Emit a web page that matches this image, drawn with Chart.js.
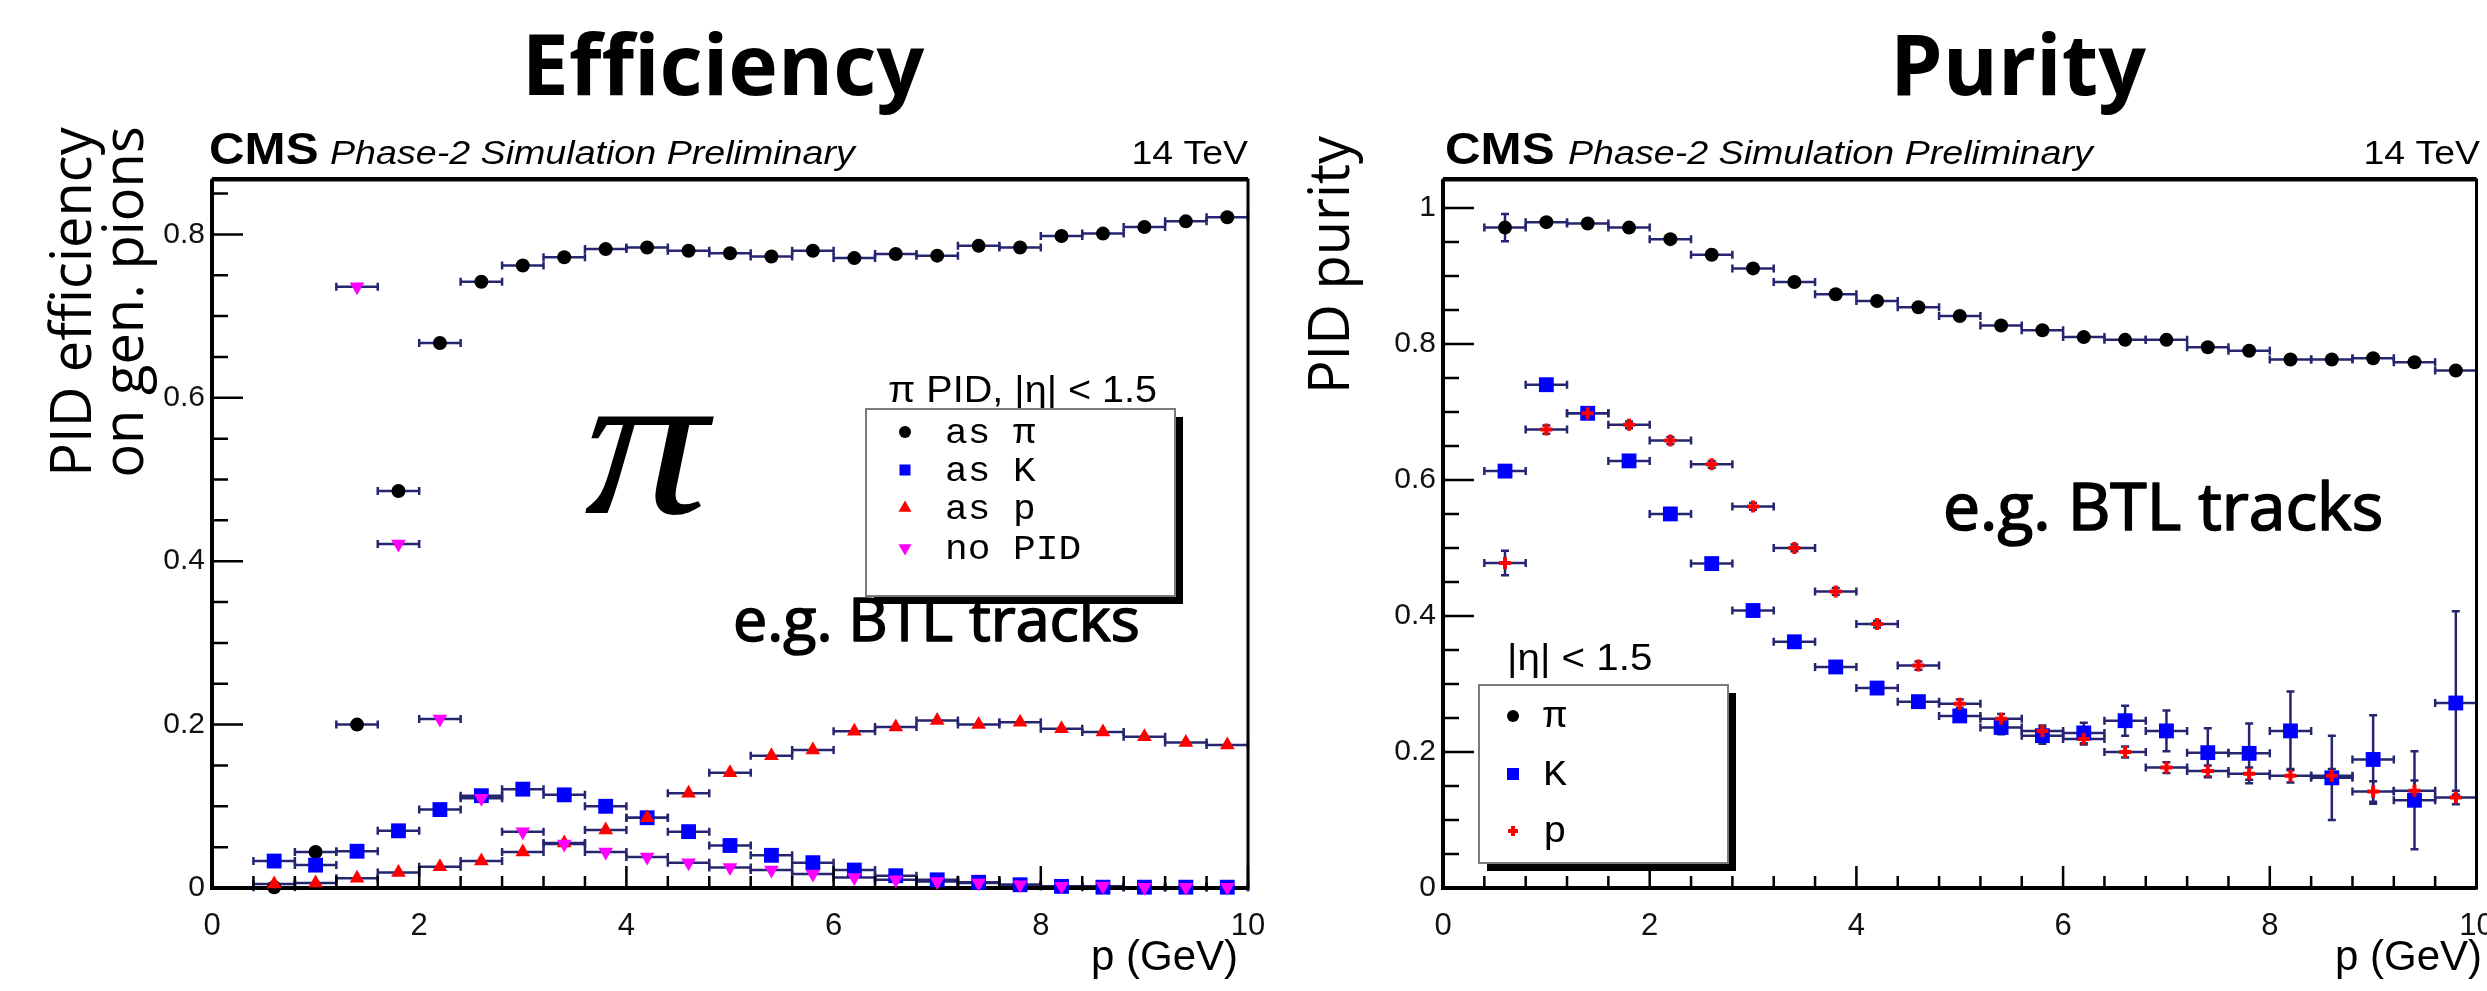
<!DOCTYPE html>
<html>
<head>
<meta charset="utf-8">
<script src="https://cdn.jsdelivr.net/npm/chart.js@4.4.1/dist/chart.umd.min.js"></script>
<style>
html, body { margin: 0; padding: 0; background: #ffffff; }
body { width: 2487px; height: 991px; position: relative; overflow: hidden; }
.panel { position: absolute; top: 0; height: 991px; }
#leftPanel { left: 0; width: 1290px; }
#rightPanel { left: 1290px; width: 1197px; }
canvas { display: block; }
</style>
</head>
<body>
<div class="panel" id="leftPanel"><canvas id="effChart" width="1290" height="991"></canvas></div>
<div class="panel" id="rightPanel"><canvas id="purChart" width="1197" height="991"></canvas></div>
<script>
// ---------------- DATA ----------------
const P_GEV = [0.6, 1.0, 1.4, 1.8, 2.2, 2.6, 3.0, 3.4, 3.8, 4.2, 4.6, 5.0, 5.4, 5.8, 6.2, 6.6, 7.0, 7.4, 7.8, 8.2, 8.6, 9.0, 9.4, 9.8];
const P_HALF_BIN = 0.2;

// Efficiency (pi PID, |eta| < 1.5)
const EFF_AS_PI  = [0.001, 0.044, 0.200, 0.486, 0.667, 0.742, 0.762, 0.772, 0.782, 0.784, 0.780, 0.777, 0.773, 0.780, 0.771, 0.776, 0.774, 0.786, 0.784, 0.798, 0.801, 0.809, 0.816, 0.821];
const EFF_AS_K   = [0.033, 0.028, 0.045, 0.070, 0.096, 0.113, 0.121, 0.114, 0.100, 0.086, 0.069, 0.052, 0.040, 0.031, 0.022, 0.015, 0.010, 0.007, 0.004, 0.002, 0.001, 0.001, 0.001, 0.001];
const EFF_AS_P   = [0.005, 0.006, 0.012, 0.019, 0.026, 0.033, 0.044, 0.055, 0.071, 0.086, 0.116, 0.141, 0.162, 0.169, 0.192, 0.197, 0.205, 0.200, 0.203, 0.195, 0.191, 0.185, 0.178, 0.175];
const EFF_NO_PID = [null, null, 0.736, 0.421, 0.207, 0.110, 0.069, 0.054, 0.044, 0.038, 0.031, 0.025, 0.022, 0.017, 0.013, 0.010, 0.008, 0.006, 0.004, 0.002, 0.002, 0.001, 0.001, 0.001];

// Purity (|eta| < 1.5)
const PUR_PI     = [0.971, 0.979, 0.977, 0.971, 0.954, 0.931, 0.911, 0.891, 0.873, 0.863, 0.854, 0.841, 0.827, 0.820, 0.810, 0.806, 0.806, 0.795, 0.790, 0.777, 0.777, 0.779, 0.773, 0.761];
const PUR_PI_ERR = [0.020, 0.006, 0.005, 0.005, 0.004, 0.004, 0.004, 0.004, 0.004, 0.004, 0.004, 0.004, 0.004, 0.004, 0.004, 0.004, 0.004, 0.004, 0.004, 0.004, 0.004, 0.004, 0.005, 0.005];
const PUR_K      = [0.613, 0.740, 0.698, 0.628, 0.550, 0.477, 0.408, 0.362, 0.325, 0.294, 0.274, 0.253, 0.236, 0.224, 0.228, 0.246, 0.231, 0.199, 0.198, 0.231, 0.162, 0.189, 0.129, 0.272];
const PUR_K_ERR  = [0.008, 0.006, 0.006, 0.005, 0.005, 0.005, 0.005, 0.005, 0.005, 0.006, 0.006, 0.008, 0.010, 0.012, 0.015, 0.022, 0.030, 0.036, 0.044, 0.058, 0.062, 0.065, 0.072, 0.135];
const PUR_P      = [0.478, 0.674, 0.698, 0.681, 0.658, 0.623, 0.561, 0.500, 0.436, 0.388, 0.327, 0.271, 0.249, 0.231, 0.219, 0.200, 0.177, 0.172, 0.168, 0.165, 0.165, 0.142, 0.143, 0.133];
const PUR_P_ERR  = [0.018, 0.006, 0.006, 0.005, 0.005, 0.005, 0.005, 0.005, 0.005, 0.005, 0.006, 0.006, 0.007, 0.008, 0.008, 0.008, 0.008, 0.008, 0.009, 0.010, 0.010, 0.015, 0.015, 0.010];

// Axes
const X_TICKS = [0, 2, 4, 6, 8, 10];
const X_TICK_LABELS = ['0', '2', '4', '6', '8', '10'];
const EFF_Y_TICKS = [0, 0.2, 0.4, 0.6, 0.8];
const EFF_Y_TICK_LABELS = ['0', '0.2', '0.4', '0.6', '0.8'];
const PUR_Y_TICKS = [0, 0.2, 0.4, 0.6, 0.8, 1.0];
const PUR_Y_TICK_LABELS = ['0', '0.2', '0.4', '0.6', '0.8', '1'];
const X_RANGE = [0, 10];
const EFF_Y_RANGE = [0, 0.8666];
const PUR_Y_RANGE = [0, 1.041];

// Legend labels
const EFF_LEGEND_TITLE = 'π PID, |η| < 1.5';
const EFF_LEGEND = ['as π', 'as K', 'as p', 'no PID'];
const PUR_LEGEND_TITLE = '|η| < 1.5';
const PUR_LEGEND = ['π', 'K', 'p'];

// ---------------- STYLE ----------------
const EB_COLOR = '#262670';
const ROOT_FONT = '"Liberation Sans", Arial, Helvetica, sans-serif';
const SLIDE_FONT = '"Open Sans", "Noto Sans", sans-serif';
const MONO_FONT = '"Liberation Mono", "Courier New", monospace';

function points(ys, errs) {
  const out = [];
  P_GEV.forEach((x, i) => {
    if (ys[i] === null || ys[i] === undefined) return;
    out.push({ x: x, y: ys[i], ex: P_HALF_BIN, ey: errs ? errs[i] : 0 });
  });
  return out;
}

function drawText(ctx, text, x, y, font, align, sx, stroke) {
  ctx.save();
  ctx.font = font;
  ctx.fillStyle = '#000';
  ctx.strokeStyle = '#000';
  ctx.textAlign = align || 'left';
  ctx.textBaseline = 'alphabetic';
  ctx.translate(x, y);
  ctx.scale(sx || 1, 1);
  ctx.fillText(text, 0, 0);
  if (stroke) { ctx.lineWidth = stroke; ctx.lineJoin = 'round'; ctx.strokeText(text, 0, 0); }
  ctx.restore();
}

function drawVText(ctx, text, x, y, font) {
  ctx.save();
  ctx.font = font; ctx.fillStyle = '#000'; ctx.textAlign = 'center'; ctx.textBaseline = 'alphabetic';
  ctx.translate(x, y); ctx.rotate(-Math.PI / 2); ctx.fillText(text, 0, 0);
  ctx.restore();
}

function drawMarker(ctx, style, x, y, color, r) {
  ctx.save();
  ctx.fillStyle = color;
  ctx.strokeStyle = color;
  ctx.beginPath();
  if (style === 'circle') {
    ctx.arc(x, y, r, 0, Math.PI * 2);
    ctx.fill();
  } else if (style === 'rect') {
    ctx.fillRect(x - r, y - r, 2 * r, 2 * r);
  } else if (style === 'tri') {
    ctx.moveTo(x, y - r); ctx.lineTo(x + r * 0.87, y + r * 0.5); ctx.lineTo(x - r * 0.87, y + r * 0.5); ctx.closePath(); ctx.fill();
  } else if (style === 'triDown') {
    ctx.moveTo(x, y + r); ctx.lineTo(x + r * 0.87, y - r * 0.5); ctx.lineTo(x - r * 0.87, y - r * 0.5); ctx.closePath(); ctx.fill();
  } else if (style === 'cross') {
    ctx.lineWidth = 4;
    ctx.moveTo(x - r, y); ctx.lineTo(x + r, y); ctx.moveTo(x, y - r); ctx.lineTo(x, y + r); ctx.stroke();
  }
  ctx.restore();
}

function drawLegendBox(ctx, x0, y0, x1, y1) {
  ctx.save();
  ctx.fillStyle = '#000';
  ctx.fillRect(x0 + 8, y0 + 8, x1 - x0, y1 - y0);
  ctx.fillStyle = '#fff';
  ctx.fillRect(x0, y0, x1 - x0, y1 - y0);
  ctx.strokeStyle = '#7a7a7a';
  ctx.lineWidth = 2;
  ctx.strokeRect(x0, y0, x1 - x0, y1 - y0);
  ctx.restore();
}

// Plugin: error bars, frame and inside ticks (drawn under the markers)
function rootAxesPlugin(yMinorStep) {
  return {
    id: 'rootAxes',
    beforeDatasetsDraw(chart) {
      const ctx = chart.ctx;
      const xs = chart.scales.x, ys = chart.scales.y;
      const a = chart.chartArea;
      ctx.save();
      ctx.strokeStyle = EB_COLOR;
      ctx.lineWidth = 2.5;
      chart.data.datasets.forEach(ds => {
        ds.data.forEach(p => {
          const py = ys.getPixelForValue(p.y);
          const xl = xs.getPixelForValue(p.x - p.ex), xr = xs.getPixelForValue(p.x + p.ex);
          ctx.beginPath();
          ctx.moveTo(xl, py); ctx.lineTo(xr, py);
          ctx.moveTo(xl, py - 4); ctx.lineTo(xl, py + 4);
          ctx.moveTo(xr, py - 4); ctx.lineTo(xr, py + 4);
          if (p.ey > 0) {
            const px = xs.getPixelForValue(p.x);
            const yt = ys.getPixelForValue(p.y + p.ey), yb = ys.getPixelForValue(p.y - p.ey);
            ctx.moveTo(px, yt); ctx.lineTo(px, yb);
            ctx.moveTo(px - 4, yt); ctx.lineTo(px + 4, yt);
            ctx.moveTo(px - 4, yb); ctx.lineTo(px + 4, yb);
          }
          ctx.stroke();
        });
      });
      ctx.restore();
      ctx.save();
      ctx.strokeStyle = '#000';
      ctx.lineWidth = 3;
      ctx.strokeRect(a.left, a.top, a.right - a.left, a.bottom - a.top);
      ctx.lineWidth = 4;
      ctx.beginPath();
      ctx.moveTo(a.left, a.top - 1); ctx.lineTo(a.right, a.top - 1);
      ctx.moveTo(a.left, a.top); ctx.lineTo(a.left, a.bottom);
      ctx.lineTo(a.right, a.bottom);
      ctx.stroke();
      ctx.lineWidth = 2.5;
      ctx.beginPath();
      for (let k = 0; k * 0.4 <= X_RANGE[1] + 1e-9; k++) {
        const v = k * 0.4;
        const major = Math.abs(v / 2 - Math.round(v / 2)) < 1e-6;
        const px = xs.getPixelForValue(v);
        ctx.moveTo(px, a.bottom); ctx.lineTo(px, a.bottom - (major ? 22 : 12));
      }
      const yMax = ys.max;
      for (let k = 0; k * yMinorStep <= yMax + 1e-9; k++) {
        const v = k * yMinorStep;
        const major = Math.abs(v / 0.2 - Math.round(v / 0.2)) < 1e-6;
        const py = ys.getPixelForValue(v);
        ctx.moveTo(a.left, py); ctx.lineTo(a.left + (major ? 31 : 16), py);
      }
      ctx.stroke();
      ctx.restore();
    }
  };
}

function scalesFor(yRange, yTicks, yLabels) {
  return {
    x: {
      type: 'linear', min: X_RANGE[0], max: X_RANGE[1],
      afterBuildTicks: s => { s.ticks = X_TICKS.map(v => ({ value: v })); },
      afterFit: s => { s.height = 60; s.paddingLeft = 0; s.paddingRight = 0; },
      grid: { display: false, drawTicks: false }, border: { display: false },
      ticks: { autoSkip: false, maxRotation: 0, minRotation: 0, padding: 20, color: '#111',
               font: { family: ROOT_FONT, size: 31 },
               callback: (v, i) => X_TICK_LABELS[i] }
    },
    y: {
      type: 'linear', min: yRange[0], max: yRange[1],
      afterBuildTicks: s => { s.ticks = yTicks.map(v => ({ value: v })); },
      afterFit: s => { s.width = 80; s.paddingTop = 0; s.paddingBottom = 0; },
      grid: { display: false, drawTicks: false }, border: { display: false },
      ticks: { autoSkip: false, padding: 7, color: '#111',
               font: { family: ROOT_FONT, size: 30 },
               callback: (v, i) => yLabels[i] }
    }
  };
}

// ---------------- LEFT: EFFICIENCY ----------------
const effDeco = {
  id: 'effDeco',
  afterDraw(chart) {
    const ctx = chart.ctx;
    drawText(ctx, 'Efficiency', 723, 95, 'bold 84px ' + SLIDE_FONT, 'center');
    drawText(ctx, 'CMS', 209, 164, 'bold 44px ' + ROOT_FONT, 'left', 1.12);
    drawText(ctx, 'Phase-2 Simulation Preliminary', 330, 164, 'italic 33px ' + ROOT_FONT, 'left', 1.14);
    drawText(ctx, '14 TeV', 1248, 164, '34px ' + ROOT_FONT, 'right', 1.1);
    drawVText(ctx, 'PID efficiency', 91, 302, '56px ' + SLIDE_FONT);
    drawVText(ctx, 'on gen. pions', 143, 302, '56px ' + SLIDE_FONT);
    drawText(ctx, 'p (GeV)', 1238, 970, '42px ' + ROOT_FONT, 'right', 1.0);
    drawText(ctx, 'π', 646, 513, 'italic 210px "Liberation Serif", "DejaVu Serif", serif', 'center', 1.18);
    drawText(ctx, 'e.g. BTL tracks', 733, 641, '61px ' + SLIDE_FONT, 'left', 1, 1.6);
    // legend
    drawText(ctx, EFF_LEGEND_TITLE, 888, 402, '36px ' + ROOT_FONT, 'left', 1.1);
    drawLegendBox(ctx, 866, 409, 1175, 596);
    const ds = chart.data.datasets;
    const rows = [432, 470, 508, 548];
    const styles = [['circle', 6], ['rect', 5.5], ['tri', 7.5], ['triDown', 7.5]];
    for (let i = 0; i < 4; i++) {
      drawMarker(ctx, styles[i][0], 905, rows[i], ds[i].backgroundColor, styles[i][1]);
      drawText(ctx, EFF_LEGEND[i], 945, rows[i] + 11, '35px ' + MONO_FONT, 'left', 1.08);
    }
  }
};

new Chart(document.getElementById('effChart'), {
  type: 'scatter',
  data: {
    datasets: [
      { label: EFF_LEGEND[0], data: points(EFF_AS_PI), backgroundColor: '#000000', borderColor: '#000000',
        pointStyle: 'circle', pointRadius: 7, borderWidth: 0, order: 4, clip: false },
      { label: EFF_LEGEND[1], data: points(EFF_AS_K), backgroundColor: '#0000ff', borderColor: '#0000ff',
        pointStyle: 'rect', pointRadius: 10.5, borderWidth: 0, order: 3, clip: false },
      { label: EFF_LEGEND[2], data: points(EFF_AS_P), backgroundColor: '#ff0000', borderColor: '#ff0000',
        pointStyle: 'triangle', pointRadius: 8.5, borderWidth: 0, order: 2, clip: false },
      { label: EFF_LEGEND[3], data: points(EFF_NO_PID), backgroundColor: '#ff00ff', borderColor: '#ff00ff',
        pointStyle: 'triangle', rotation: 180, pointRadius: 8.5, borderWidth: 0, order: 1, clip: false }
    ]
  },
  options: {
    responsive: false, animation: false, events: [],
    layout: { padding: { left: 132, right: 42, top: 180, bottom: 43 } },
    plugins: { legend: { display: false }, tooltip: { enabled: false } },
    scales: scalesFor(EFF_Y_RANGE, EFF_Y_TICKS, EFF_Y_TICK_LABELS)
  },
  plugins: [rootAxesPlugin(0.05), effDeco]
});

// ---------------- RIGHT: PURITY ----------------
const OX = 1290;
const purDeco = {
  id: 'purDeco',
  afterDraw(chart) {
    const ctx = chart.ctx;
    drawText(ctx, 'Purity', 2018 - OX, 95, 'bold 84px ' + SLIDE_FONT, 'center');
    drawText(ctx, 'CMS', 1445 - OX, 164, 'bold 44px ' + ROOT_FONT, 'left', 1.12);
    drawText(ctx, 'Phase-2 Simulation Preliminary', 1568 - OX, 164, 'italic 33px ' + ROOT_FONT, 'left', 1.14);
    drawText(ctx, '14 TeV', 2480 - OX, 164, '34px ' + ROOT_FONT, 'right', 1.1);
    drawVText(ctx, 'PID purity', 1349 - OX, 265, '56px ' + SLIDE_FONT);
    drawText(ctx, 'p (GeV)', 2482 - OX, 970, '42px ' + ROOT_FONT, 'right', 1.0);
    drawText(ctx, 'e.g. BTL tracks', 1943 - OX, 530, '66px ' + SLIDE_FONT, 'left', 1, 1.7);
    drawText(ctx, PUR_LEGEND_TITLE, 1507 - OX, 670, '36px ' + ROOT_FONT, 'left', 1.12);
    drawLegendBox(ctx, 1479 - OX, 685, 1728 - OX, 863);
    const ds = chart.data.datasets;
    const rows = [716, 774, 831];
    const styles = [['circle', 6], ['rect', 6], ['cross', 5]];
    for (let i = 0; i < 3; i++) {
      drawMarker(ctx, styles[i][0], 1513 - OX, rows[i], ds[i].backgroundColor, styles[i][1]);
      drawText(ctx, PUR_LEGEND[i], 1543 - OX, rows[i] + 11, '36px ' + MONO_FONT, 'left', 1.1);
    }
  }
};

new Chart(document.getElementById('purChart'), {
  type: 'scatter',
  data: {
    datasets: [
      { label: PUR_LEGEND[0], data: points(PUR_PI, PUR_PI_ERR), backgroundColor: '#000000', borderColor: '#000000',
        pointStyle: 'circle', pointRadius: 7, borderWidth: 0, order: 3, clip: false },
      { label: PUR_LEGEND[1], data: points(PUR_K, PUR_K_ERR), backgroundColor: '#0000ff', borderColor: '#0000ff',
        pointStyle: 'rect', pointRadius: 10.5, borderWidth: 0, order: 2, clip: false },
      { label: PUR_LEGEND[2], data: points(PUR_P, PUR_P_ERR), backgroundColor: '#ff0000', borderColor: '#ff0000',
        pointStyle: 'cross', pointRadius: 6, borderWidth: 4, order: 1, clip: false }
    ]
  },
  options: {
    responsive: false, animation: false, events: [],
    layout: { padding: { left: 73, right: 4, top: 180, bottom: 43 } },
    plugins: { legend: { display: false }, tooltip: { enabled: false } },
    scales: scalesFor(PUR_Y_RANGE, PUR_Y_TICKS, PUR_Y_TICK_LABELS)
  },
  plugins: [rootAxesPlugin(0.05), purDeco]
});
</script>
</body>
</html>
